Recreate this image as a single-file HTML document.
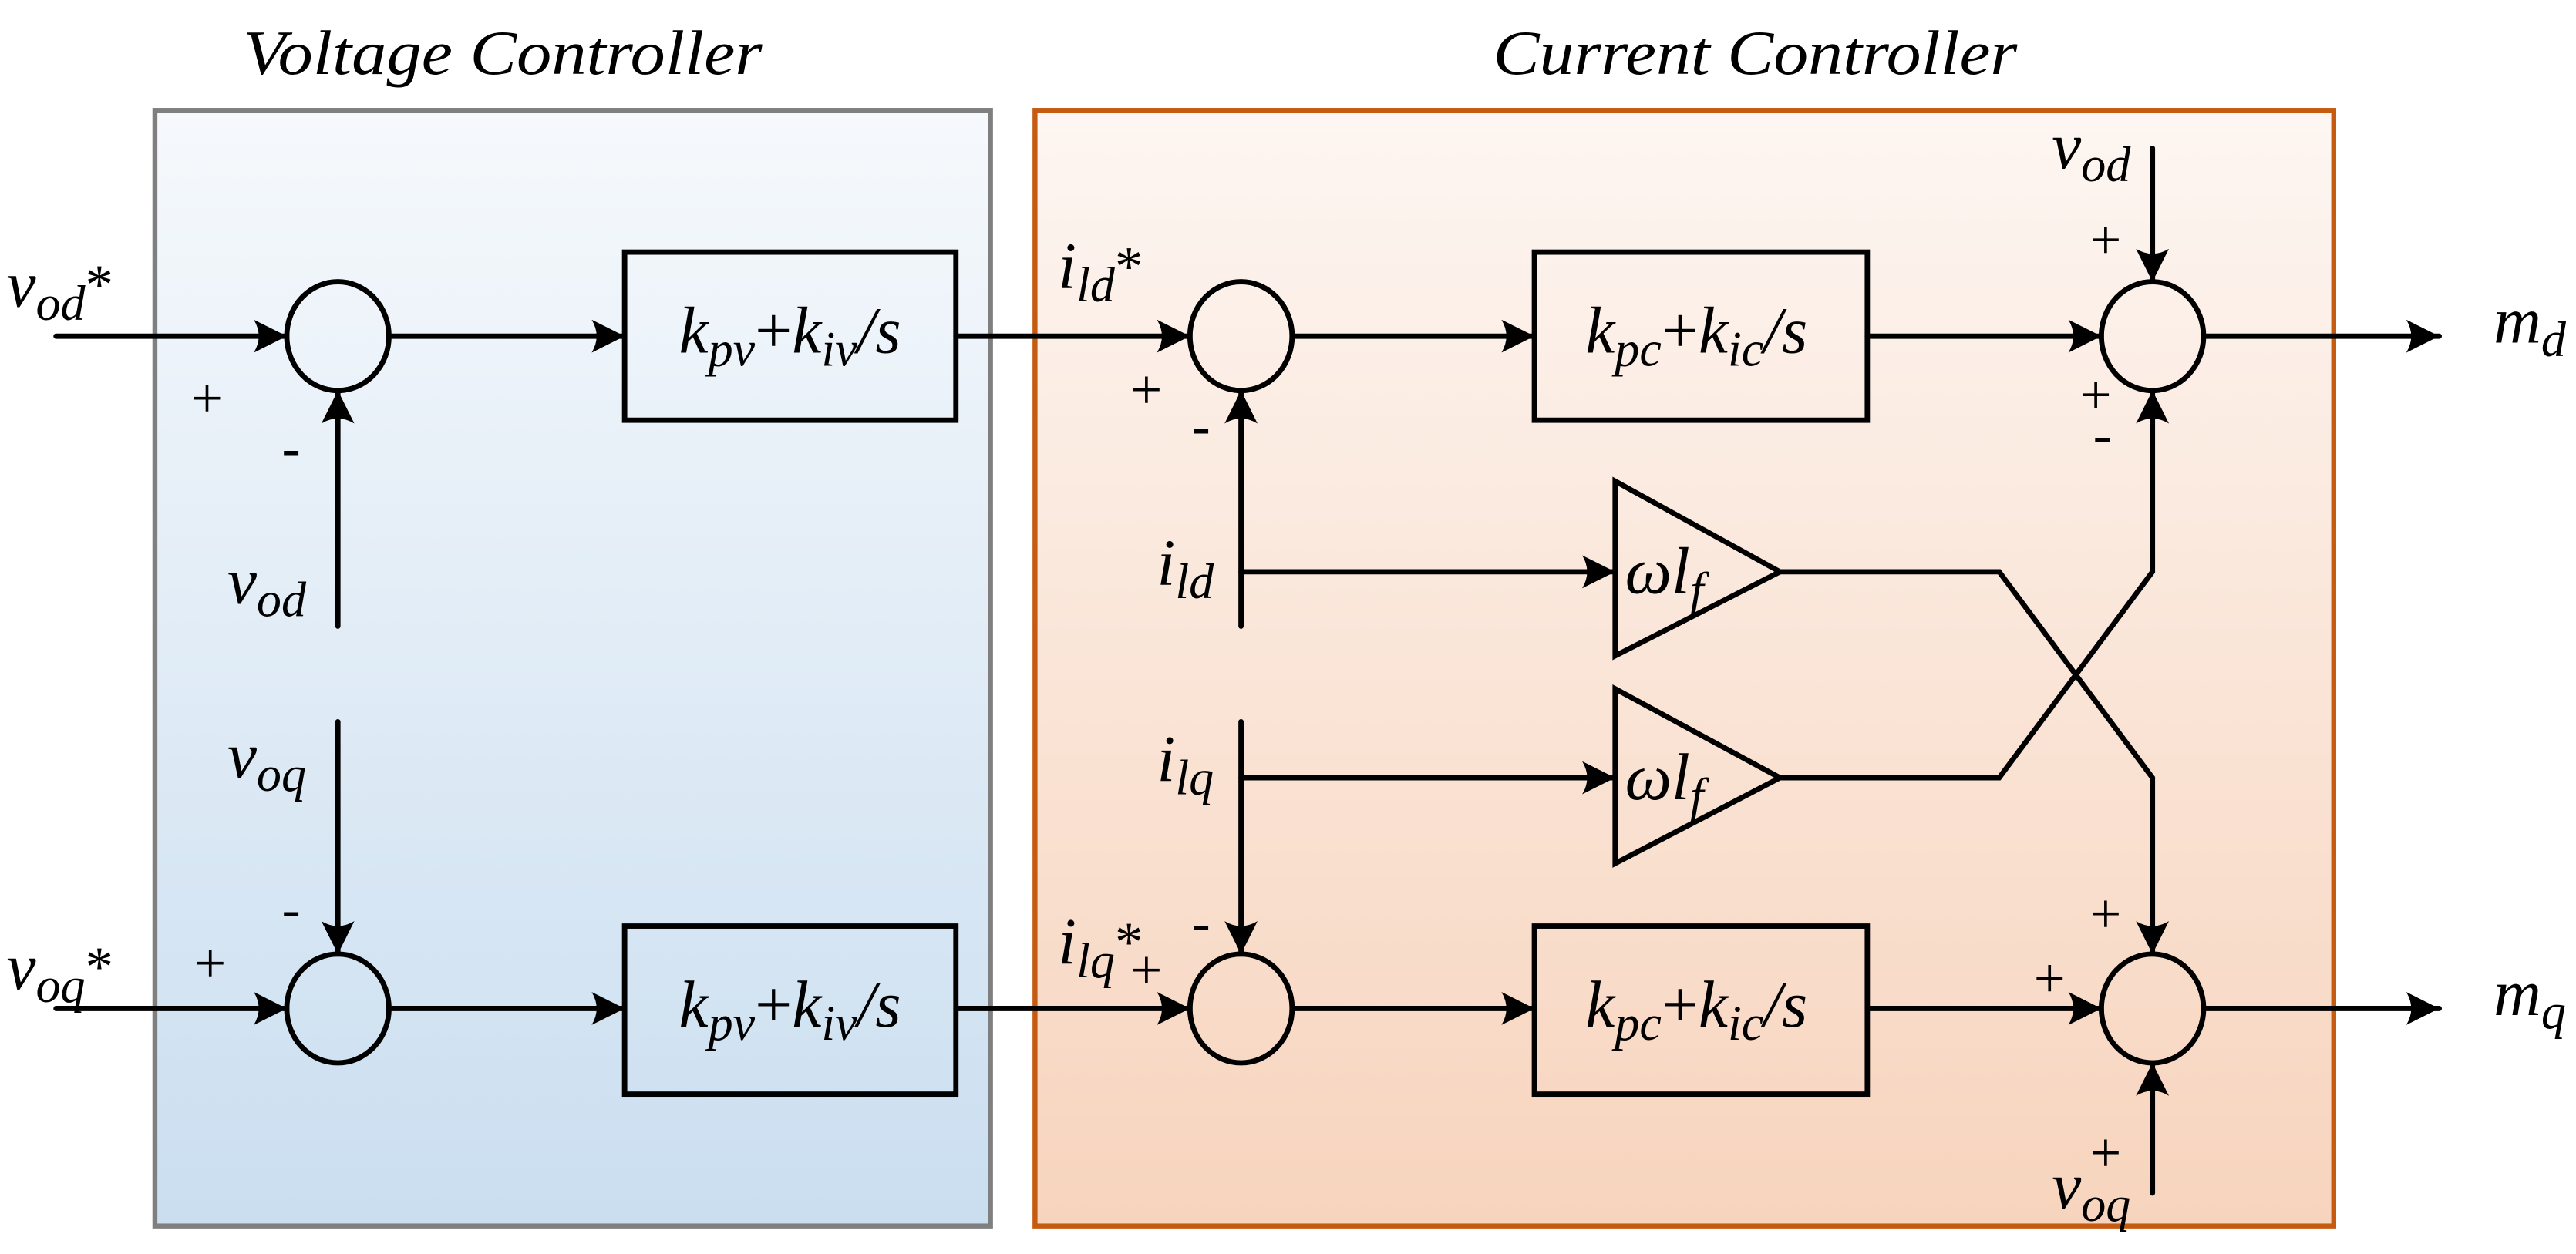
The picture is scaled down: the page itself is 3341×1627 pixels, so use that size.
<!DOCTYPE html>
<html><head><meta charset="utf-8"><style>html,body{margin:0;padding:0;background:#fff}svg{display:block}
text,tspan{font-family:"Liberation Serif","Times New Roman",Times,"DejaVu Serif",serif}
</style></head>
<body>
<svg width="3341" height="1627" viewBox="0 0 1563 761" preserveAspectRatio="none" xmlns="http://www.w3.org/2000/svg" style="font-family:'Liberation Serif','Times New Roman',Times,serif">
<defs>
<linearGradient id="gb" x1="0" y1="0" x2="0" y2="1"><stop offset="0" stop-color="#f6f9fc"/><stop offset="1" stop-color="#cadef0"/></linearGradient>
<linearGradient id="go" x1="0" y1="0" x2="0" y2="1"><stop offset="0" stop-color="#fdf6f2"/><stop offset="1" stop-color="#f7d4bd"/></linearGradient>
<marker id="a" markerUnits="userSpaceOnUse" markerWidth="24" markerHeight="20" refX="20" refY="10" orient="auto"><path d="M0,0 L20,10 L0,20 Q6,10 0,0Z" fill="#000"/></marker>
</defs>
<rect x="94" y="67" width="507" height="677" fill="url(#gb)" stroke="#7f7f7f" stroke-width="3"/>
<rect x="628" y="67" width="788" height="677" fill="url(#go)" stroke="#c55a11" stroke-width="3"/>
<g style="font-style:italic">
<text x="305" y="45" font-size="38" text-anchor="middle" textLength="315" lengthAdjust="spacingAndGlyphs">Voltage Controller</text>
<text x="1065" y="45" font-size="38" text-anchor="middle" textLength="318" lengthAdjust="spacingAndGlyphs">Current Controller</text>
</g>
<g fill="none" stroke="#000" stroke-width="3.2">
<ellipse cx="205" cy="204" rx="31" ry="33"/>
<ellipse cx="205" cy="612" rx="31" ry="33"/>
<ellipse cx="753" cy="204" rx="31" ry="33"/>
<ellipse cx="753" cy="612" rx="31" ry="33"/>
<ellipse cx="1306" cy="204" rx="31" ry="33"/>
<ellipse cx="1306" cy="612" rx="31" ry="33"/>
<rect x="379" y="153" width="201" height="102"/>
<rect x="379" y="562" width="201" height="102"/>
<rect x="931" y="153" width="202" height="102"/>
<rect x="931" y="562" width="202" height="102"/>
<path d="M980,292 L1080,347 L980,398Z"/>
<path d="M980,418 L1080,472 L980,524Z"/>
</g>
<g fill="none" stroke="#000" stroke-width="3.2" marker-end="url(#a)" stroke-linecap="round">
<path d="M34,204 H174"/>
<path d="M205,380 V237"/>
<path d="M205,438 V579"/>
<path d="M34,612 H174"/>
<path d="M236,204 H379"/>
<path d="M236,612 H379"/>
<path d="M580,204 H722"/>
<path d="M580,612 H722"/>
<path d="M753,380 V237"/>
<path d="M753,438 V579"/>
<path d="M753,347 H980"/>
<path d="M753,472 H980"/>
<path d="M784,204 H931"/>
<path d="M784,612 H931"/>
<path d="M1133,204 H1275"/>
<path d="M1133,612 H1275"/>
<path d="M1306,90 V171"/>
<path d="M1306,724 V645"/>
<path d="M1080,347 H1213 L1306,472 V579"/>
<path d="M1080,472 H1213 L1306,347 V237"/>
<path d="M1337,204 H1480"/>
<path d="M1337,612 H1480"/>
</g>
<g style="font-style:italic" font-size="40">
<text x="4" y="186">v<tspan font-size="30" dy="8">od</tspan><tspan font-size="34" style="font-style:normal" dy="-10">*</tspan></text>
<text x="4" y="600">v<tspan font-size="30" dy="8">oq</tspan><tspan font-size="34" style="font-style:normal" dy="-10">*</tspan></text>
<text x="138" y="366">v<tspan font-size="30" dy="8">od</tspan></text>
<text x="138" y="472">v<tspan font-size="30" dy="8">oq</tspan></text>
<text x="642" y="175">i<tspan font-size="30" dy="8">ld</tspan><tspan font-size="34" style="font-style:normal" dy="-10">*</tspan></text>
<text x="642" y="585">i<tspan font-size="30" dy="8">lq</tspan><tspan font-size="34" style="font-style:normal" dy="-10">*</tspan></text>
<text x="702" y="355">i<tspan font-size="30" dy="8">ld</tspan></text>
<text x="702" y="474">i<tspan font-size="30" dy="8">lq</tspan></text>
<text x="1245" y="102">v<tspan font-size="30" dy="8">od</tspan></text>
<text x="1245" y="733">v<tspan font-size="30" dy="8">oq</tspan></text>
<text x="1513" y="208">m<tspan font-size="30" dy="8">d</tspan></text>
<text x="1513" y="616">m<tspan font-size="30" dy="8">q</tspan></text>
<text x="412" y="214">k<tspan font-size="30" dy="8">pv</tspan><tspan style="font-style:normal" dy="-8">+</tspan>k<tspan font-size="30" dy="8">iv</tspan><tspan dy="-8">/s</tspan></text>
<text x="412" y="623">k<tspan font-size="30" dy="8">pv</tspan><tspan style="font-style:normal" dy="-8">+</tspan>k<tspan font-size="30" dy="8">iv</tspan><tspan dy="-8">/s</tspan></text>
<text x="962" y="214">k<tspan font-size="30" dy="8">pc</tspan><tspan style="font-style:normal" dy="-8">+</tspan>k<tspan font-size="30" dy="8">ic</tspan><tspan dy="-8">/s</tspan></text>
<text x="962" y="623">k<tspan font-size="30" dy="8">pc</tspan><tspan style="font-style:normal" dy="-8">+</tspan>k<tspan font-size="30" dy="8">ic</tspan><tspan dy="-8">/s</tspan></text>
<text x="986" y="360">ωl<tspan font-size="30" dy="8">f</tspan></text>
<text x="986" y="485">ωl<tspan font-size="30" dy="8">f</tspan></text>
</g>
<g font-size="34">
<text x="116" y="253">+</text><text x="171" y="283">-</text>
<text x="171" y="563">-</text><text x="118" y="596">+</text>
<text x="686" y="248">+</text><text x="723" y="270">-</text>
<text x="723" y="571">-</text><text x="686" y="600">+</text>
<text x="1268" y="157">+</text>
<text x="1262" y="251">+</text><text x="1270" y="275">-</text>
<text x="1268" y="566">+</text><text x="1234" y="605">+</text>
<text x="1268" y="711">+</text>
</g>
</svg>
</body></html>
